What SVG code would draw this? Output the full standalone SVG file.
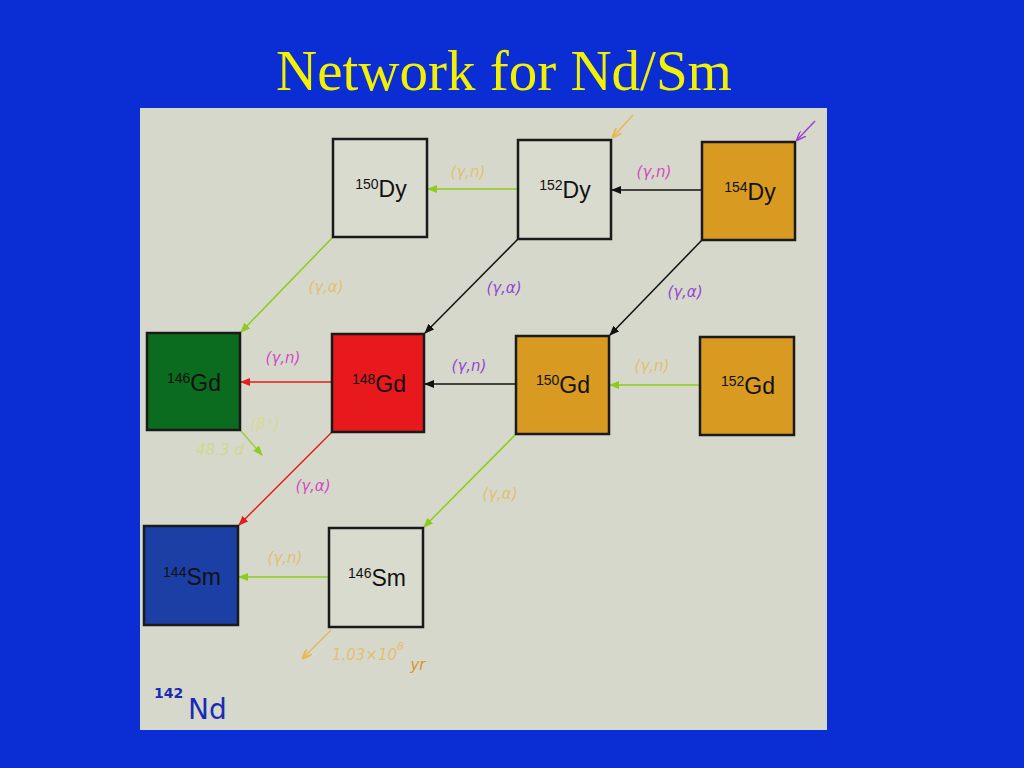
<svg xmlns="http://www.w3.org/2000/svg" width="1024" height="768" viewBox="0 0 1024 768">
<style>
.box{stroke:#1a1a1a;stroke-width:2.5}
.white{fill:#d9dbcf}
.orange{fill:#d99a22}
.nm{font-family:"Liberation Sans",Arial,sans-serif;font-size:23px;fill:#111;text-anchor:middle}
.sup{font-size:14px}
.hw{font-family:"DejaVu Sans","Liberation Sans",sans-serif;font-style:italic;font-size:15px;text-anchor:middle}
.faded{fill:#e2c070}
.mag{fill:#d24cc4}
.pur{fill:#9448d0}
.c{fill:none;stroke-width:1.5}
</style>
<defs>
<marker id="ag" markerWidth="10" markerHeight="8" refX="9" refY="4" orient="auto" markerUnits="userSpaceOnUse"><path d="M0,0 L10,4 L0,8 Z" fill="#8ccc1c"/></marker>
<marker id="ak" markerWidth="10" markerHeight="8" refX="9" refY="4" orient="auto" markerUnits="userSpaceOnUse"><path d="M0,0 L10,4 L0,8 Z" fill="#111"/></marker>
<marker id="ar" markerWidth="10" markerHeight="8" refX="9" refY="4" orient="auto" markerUnits="userSpaceOnUse"><path d="M0,0 L10,4 L0,8 Z" fill="#e41e1e"/></marker>
<marker id="ao" markerWidth="10" markerHeight="8" refX="9" refY="4" orient="auto" markerUnits="userSpaceOnUse"><path d="M0,0 L10,4 L0,8" fill="none" stroke="#e8b850" stroke-width="2"/></marker>
<marker id="ap" markerWidth="10" markerHeight="8" refX="9" refY="4" orient="auto" markerUnits="userSpaceOnUse"><path d="M0,0 L10,4 L0,8" fill="none" stroke="#a040d0" stroke-width="1.5"/></marker>
</defs>
<rect width="1024" height="768" fill="#0b2dd4"/>
<text x="504" y="90" font-family="'Liberation Serif','Times New Roman',serif" font-size="57" fill="#f2f200" text-anchor="middle">Network for Nd/Sm</text>
<rect x="140" y="108" width="687" height="622" fill="#d6d8cc"/>

<g id="connectors">
<line class="c" x1="518" y1="189" x2="428" y2="189" stroke="#8ccc1c" marker-end="url(#ag)"/>
<line class="c" x1="702" y1="190" x2="612" y2="190" stroke="#111" marker-end="url(#ak)"/>
<line class="c" x1="333" y1="237" x2="241" y2="332" stroke="#8ccc1c" marker-end="url(#ag)"/>
<line class="c" x1="518" y1="239" x2="425" y2="333" stroke="#111" marker-end="url(#ak)"/>
<line class="c" x1="702" y1="240" x2="610" y2="335" stroke="#111" marker-end="url(#ak)"/>
<line class="c" x1="332" y1="382" x2="241" y2="382" stroke="#e41e1e" marker-end="url(#ar)"/>
<line class="c" x1="516" y1="384" x2="425" y2="384" stroke="#111" marker-end="url(#ak)"/>
<line class="c" x1="700" y1="385" x2="610" y2="385" stroke="#8ccc1c" marker-end="url(#ag)"/>
<line class="c" x1="332" y1="432" x2="239" y2="525" stroke="#e41e1e" marker-end="url(#ar)"/>
<line class="c" x1="516" y1="434" x2="424" y2="527" stroke="#8ccc1c" marker-end="url(#ag)"/>
<line class="c" x1="329" y1="577" x2="239" y2="577" stroke="#8ccc1c" marker-end="url(#ag)"/>
<line class="c" x1="241" y1="431" x2="262" y2="455" stroke="#9ad03a" marker-end="url(#ag)"/>
<line class="c" x1="331" y1="630" x2="303" y2="658" stroke="#e8b850" stroke-width="2.5" marker-end="url(#ao)"/>
<line class="c" x1="633" y1="115" x2="613" y2="137" stroke="#e8b850" stroke-width="2.5" marker-end="url(#ao)"/>
<line class="c" x1="815" y1="121" x2="797" y2="140" stroke="#a040d0" marker-end="url(#ap)"/>
</g>

<g id="n150Dy"><rect class="box white" x="333" y="139" width="94" height="98"/><text class="nm" x="381" y="197"><tspan class="sup" dy="-8">150</tspan><tspan dy="8">Dy</tspan></text></g>
<g id="n152Dy"><rect class="box white" x="518" y="140" width="93" height="99"/><text class="nm" x="565" y="198"><tspan class="sup" dy="-8">152</tspan><tspan dy="8">Dy</tspan></text></g>
<g id="n154Dy"><rect class="box orange" x="702" y="142" width="93" height="98"/><text class="nm" x="750" y="200"><tspan class="sup" dy="-8">154</tspan><tspan dy="8">Dy</tspan></text></g>
<g id="n146Gd"><rect class="box" fill="#0b6b1e" x="147" y="333" width="93" height="97"/><text class="nm" x="194" y="391"><tspan class="sup" dy="-8">146</tspan><tspan dy="8">Gd</tspan></text></g>
<g id="n148Gd"><rect class="box" fill="#e8191c" x="332" y="334" width="92" height="98"/><text class="nm" x="379" y="392"><tspan class="sup" dy="-8">148</tspan><tspan dy="8">Gd</tspan></text></g>
<g id="n150Gd"><rect class="box orange" x="516" y="336" width="93" height="98"/><text class="nm" x="563" y="393"><tspan class="sup" dy="-8">150</tspan><tspan dy="8">Gd</tspan></text></g>
<g id="n152Gd"><rect class="box orange" x="700" y="337" width="94" height="98"/><text class="nm" x="748" y="394"><tspan class="sup" dy="-8">152</tspan><tspan dy="8">Gd</tspan></text></g>
<g id="n144Sm"><rect class="box" fill="#1c3fa6" x="144" y="526" width="94" height="99"/><text class="nm" x="192" y="585"><tspan class="sup" dy="-8">144</tspan><tspan dy="8">Sm</tspan></text></g>
<g id="n146Sm"><rect class="box white" x="329" y="528" width="94" height="99"/><text class="nm" x="377" y="586"><tspan class="sup" dy="-8">146</tspan><tspan dy="8">Sm</tspan></text></g>

<g id="labels">
<text class="hw faded" x="468" y="177">(γ,n)</text>
<text class="hw mag" x="654" y="177">(γ,n)</text>
<text class="hw faded" x="326" y="292">(γ,α)</text>
<text class="hw pur" x="504" y="293">(γ,α)</text>
<text class="hw pur" x="685" y="297">(γ,α)</text>
<text class="hw mag" x="283" y="363">(γ,n)</text>
<text class="hw pur" x="469" y="371">(γ,n)</text>
<text class="hw faded" x="652" y="371">(γ,n)</text>
<text class="hw" fill="#d8da94" x="265" y="429">(β⁺)</text>
<text class="hw" fill="#d0d890" x="220" y="455" font-size="13">48.3 d</text>
<text class="hw mag" x="313" y="491">(γ,α)</text>
<text class="hw faded" x="500" y="499">(γ,α)</text>
<text class="hw faded" x="285" y="563">(γ,n)</text>
<text class="hw faded" x="368" y="660" font-size="16">1.03×10<tspan font-size="11" dy="-10">8</tspan></text>
<text class="hw" fill="#e0902a" x="418" y="670" font-size="15">yr</text>
<text font-family="'DejaVu Sans',sans-serif" font-size="14" fill="#1a2ab8" x="154" y="698" font-weight="bold">142</text>
<text font-family="'DejaVu Sans',sans-serif" font-size="28" fill="#1a2ab8" x="188" y="719">Nd</text>
</g>
</svg>
